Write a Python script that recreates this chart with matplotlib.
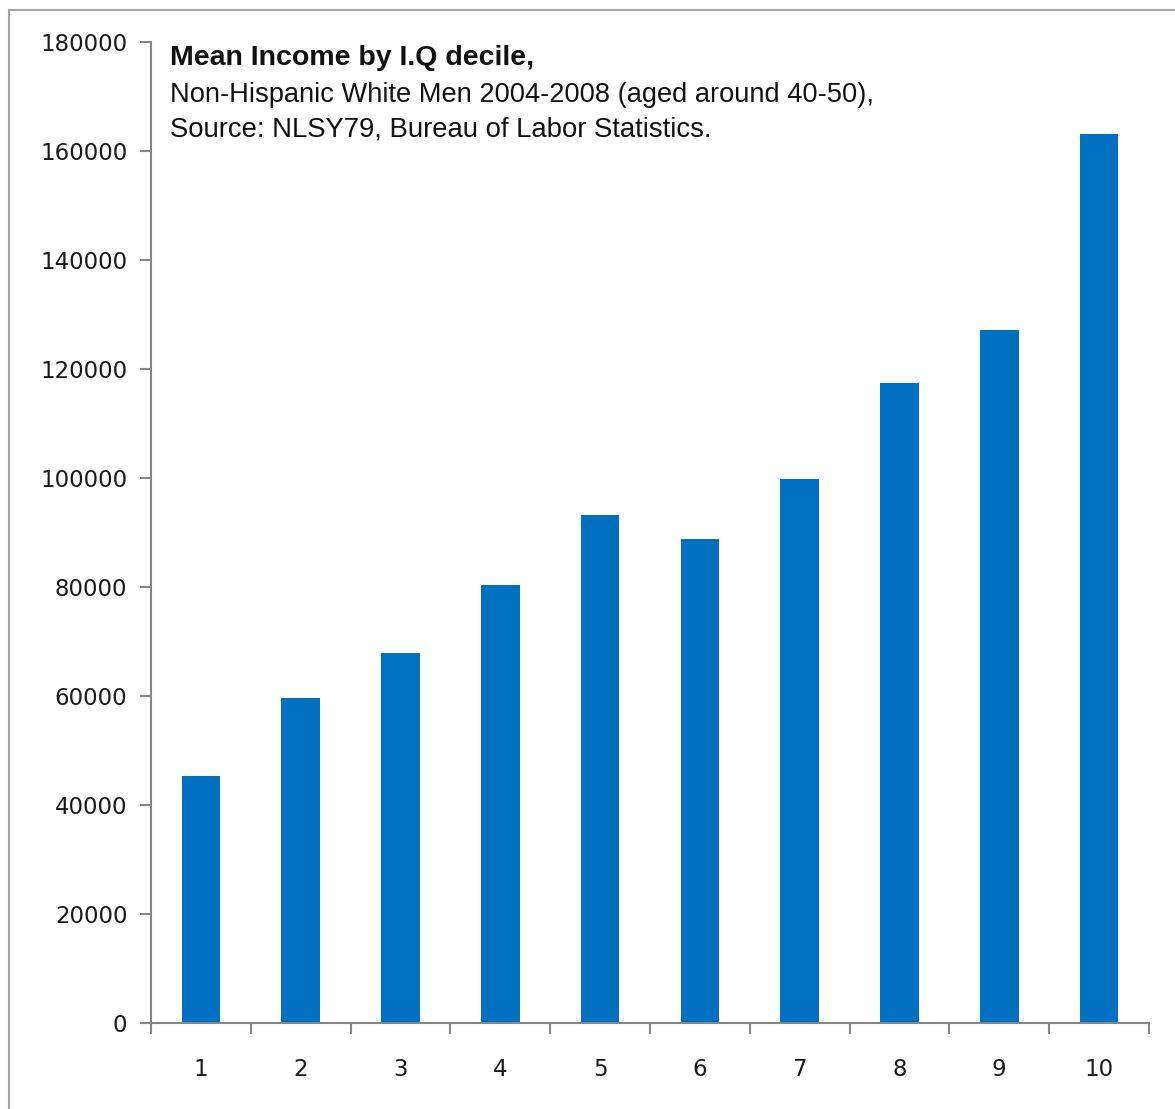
import numpy as np
import matplotlib.pyplot as plt
from matplotlib.patches import Rectangle

# data
deciles = ['1', '2', '3', '4', '5', '6', '7', '8', '9', '10']
mean_income = [45300, 59700, 67800, 80300, 93200, 88800, 99800, 117400, 127100, 163200]
y_ticks = [0, 20000, 40000, 60000, 80000, 100000, 120000, 140000, 160000, 180000]

title = 'Mean Income by I.Q decile,'
subtitle = ['Non-Hispanic White Men 2004-2008 (aged around 40-50),',
            'Source: NLSY79, Bureau of Labor Statistics.']

bar_color = '#0070C0'
axis_color = '#868686'

fig = plt.figure(figsize=(11.75, 11.09), dpi=100)

# outer chart-area border (cropped at right and bottom in the reference)
fig.patches.append(Rectangle((9 / 1175, -0.05), 1.2, 1 - 10 / 1109 + 0.05,
                             transform=fig.transFigure, fill=False,
                             edgecolor='#a6a6a6', linewidth=1.5))

ax = fig.add_axes([151 / 1175, 1 - 1023 / 1109, 998 / 1175, 981 / 1109])

x = np.arange(1, len(deciles) + 1)
ax.bar(x, mean_income, width=0.385, color=bar_color, zorder=2)

ax.set_xlim(0.5, len(deciles) + 0.5)
ax.set_ylim(0, 180000)

ax.set_yticks(y_ticks)
ax.set_yticklabels([str(v) for v in y_ticks], fontsize=16.5, family='DejaVu Sans')

# category boundaries get tick marks, labels sit in the middle
ax.set_xticks(np.arange(0.5, len(deciles) + 1.5, 1.0))
ax.set_xticklabels([])
ax.set_xticks(x, minor=True)
ax.set_xticklabels(deciles, minor=True, fontsize=16.5, family='DejaVu Sans')

ax.tick_params(axis='y', direction='out', length=8, width=1.5, color=axis_color,
               pad=9, labelcolor='#1a1a1a')
ax.tick_params(axis='x', which='major', direction='out', length=8, width=1.5,
               color=axis_color)
ax.tick_params(axis='x', which='minor', length=0, pad=25, labelcolor='#1a1a1a')

for side in ['top', 'right']:
    ax.spines[side].set_visible(False)
for side in ['left', 'bottom']:
    ax.spines[side].set_color(axis_color)
    ax.spines[side].set_linewidth(1.5)

# title block inside the plot area
fig.text(170 / 1175, 1 - 65 / 1109, title, fontsize=20.5, fontweight='bold',
         family='Liberation Sans', color='#111111', va='baseline')
fig.text(170 / 1175, 1 - 102 / 1109, subtitle[0], fontsize=19.6,
         family='Liberation Sans', color='#111111', va='baseline')
fig.text(170 / 1175, 1 - 137 / 1109, subtitle[1], fontsize=19.8,
         family='Liberation Sans', color='#111111', va='baseline')

fig.savefig('out.png', dpi=100)
